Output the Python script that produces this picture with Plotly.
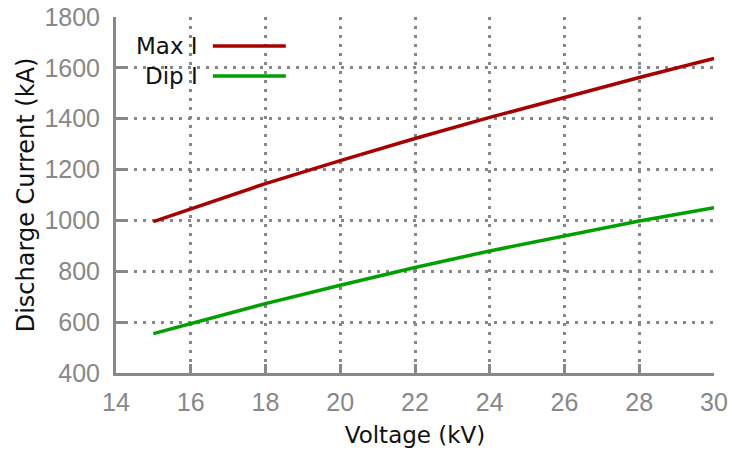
import plotly.graph_objects as go

voltage = [15, 16, 18, 20, 22, 24, 26, 28, 30]
max_i = [995, 1045, 1145, 1235, 1322, 1405, 1485, 1562, 1637]
dip_i = [555, 595, 673, 745, 815, 880, 940, 998, 1050]
series_names = ["Max I", "Dip I"]
series_colors = ["#a80000", "#00a000"]
x_ticks = [14, 16, 18, 20, 22, 24, 26, 28, 30]
y_ticks = [400, 600, 800, 1000, 1200, 1400, 1600, 1800]

fig = go.Figure()
for name, vals, col in zip(series_names, [max_i, dip_i], series_colors):
    fig.add_trace(go.Scatter(x=voltage, y=vals, mode="lines", name=name,
                             line=dict(color=col, width=3.5), showlegend=False))

# custom legend (text then line sample), placed in paper coordinates
leg_y = [0.9185, 0.834]
for name, col, yy in zip(series_names, series_colors, leg_y):
    fig.add_annotation(xref="paper", yref="paper", x=0.1405, y=yy, text=name,
                       showarrow=False, xanchor="right", yanchor="middle",
                       font=dict(family="DejaVu Sans", size=23, color="#111111"))
    fig.add_shape(type="line", xref="paper", yref="paper", x0=0.162, x1=0.284,
                  y0=yy, y1=yy, line=dict(color=col, width=3.5))

grid = dict(showgrid=True, gridcolor="#888888", griddash="3px,6px", gridwidth=2.5,
            showline=True, linecolor="#888888", linewidth=3,
            ticks="inside", ticklen=9, tickwidth=3, tickcolor="#888888",
            tickfont=dict(family="Liberation Sans", size=25, color="#888888"),
            zeroline=False, mirror=False, automargin=False)

fig.update_xaxes(range=[14, 30], tickvals=x_ticks, **grid, ticklabelstandoff=5,
                 title=dict(text="Voltage (kV)", standoff=12,
                            font=dict(family="DejaVu Sans", size=23, color="#111111")))
fig.update_yaxes(range=[400, 1800], tickvals=y_ticks, **grid, ticklabelstandoff=8,
                 title=dict(text="Discharge Current (kA)", standoff=3,
                            font=dict(family="DejaVu Sans", size=24, color="#111111")))

fig.update_layout(width=734, height=454, margin=dict(l=116, r=20, t=17, b=81),
                  plot_bgcolor="white", paper_bgcolor="white", showlegend=False)

fig.write_html("out.html")
